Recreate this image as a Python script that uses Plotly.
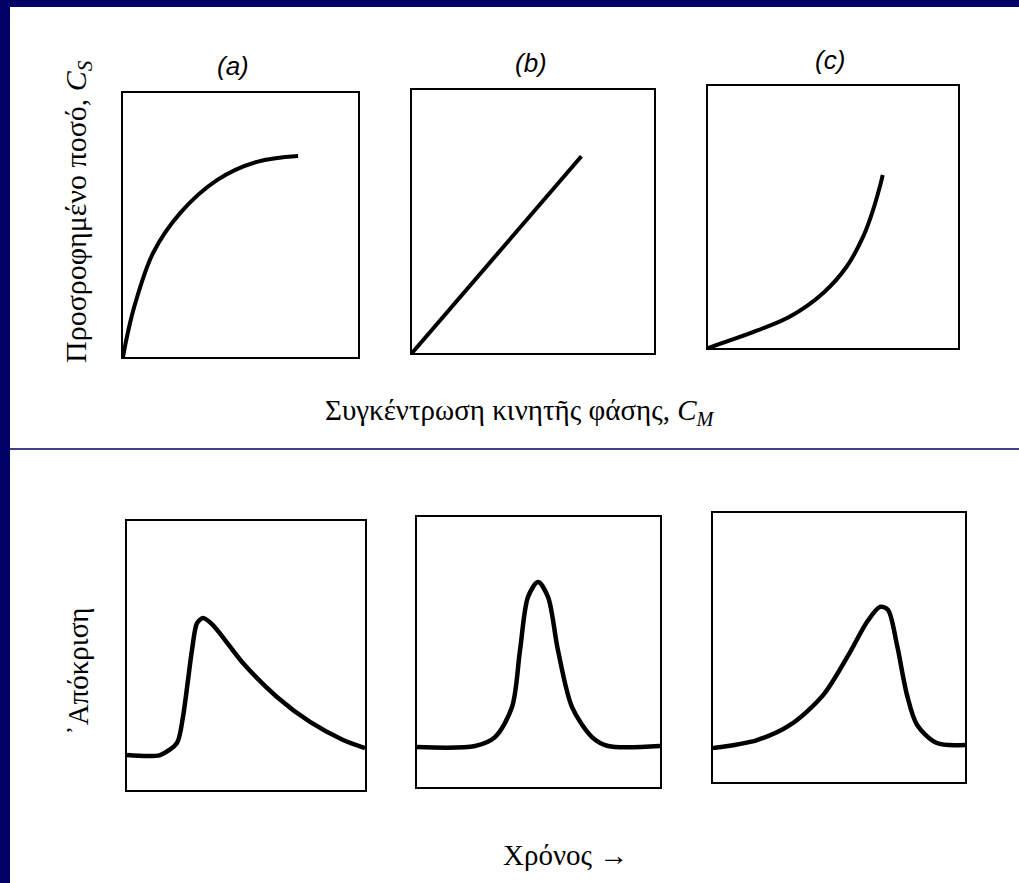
import plotly.graph_objects as go

# Panel labels
panel_labels = ["(a)", "(b)", "(c)"]

# Isotherms: stationary-phase amount vs mobile-phase concentration
iso_a_x = [0.0, 0.02, 0.051, 0.128, 0.243, 0.40, 0.57, 0.745]
iso_a_y = [0.0, 0.09, 0.20, 0.394, 0.545, 0.67, 0.739, 0.761]
iso_b_x = [0.0, 0.70]
iso_b_y = [0.0, 0.748]
iso_c_x = [0.0, 0.195, 0.328, 0.461, 0.555, 0.621, 0.661, 0.688, 0.699]
iso_c_y = [0.0, 0.066, 0.12, 0.21, 0.311, 0.426, 0.529, 0.618, 0.66]

# Resulting peak shapes: detector response vs time
peak_a_x = [0.0, 0.139, 0.21, 0.235, 0.273, 0.294, 0.319, 0.361, 0.487, 0.63, 0.769, 0.908, 1.0]
peak_a_y = [0.13, 0.13, 0.175, 0.271, 0.52, 0.62, 0.639, 0.613, 0.472, 0.346, 0.253, 0.186, 0.156]
peak_b_x = [0.0, 0.239, 0.321, 0.391, 0.424, 0.457, 0.498, 0.539, 0.58, 0.638, 0.72, 0.786, 1.0]
peak_b_y = [0.148, 0.152, 0.185, 0.296, 0.507, 0.704, 0.759, 0.704, 0.507, 0.296, 0.185, 0.152, 0.152]
peak_c_x = [0.0, 0.175, 0.306, 0.437, 0.544, 0.611, 0.663, 0.694, 0.73, 0.77, 0.81, 0.888, 1.0]
peak_c_y = [0.126, 0.156, 0.212, 0.323, 0.483, 0.595, 0.651, 0.640, 0.51, 0.323, 0.212, 0.145, 0.138]

# Axis titles
top_ytitle = "Προσροφημένο ποσό, <i>C</i><sub><i>S</i></sub>"
top_xtitle = "Συγκέντρωση κινητῆς φάσης, <i>C</i><sub><i>M</i></sub>"
bot_ytitle = "᾿Απόκριση"
bot_xtitle = "Χρόνος →"

W, H = 1019, 883
NAVY = "#000066"

# Pixel frames of the six boxes: (left, right, top, bottom)
frames = [
    (123, 358, 93, 357), (412, 654, 90, 353), (708, 958, 86, 348),
    (127, 365, 521, 790), (417, 660, 517, 787), (713, 965, 513, 782),
]
series = [
    (iso_a_x, iso_a_y, "spline", 1.0), (iso_b_x, iso_b_y, "linear", None),
    (iso_c_x, iso_c_y, "spline", 1.0),
    (peak_a_x, peak_a_y, "spline", 0.75), (peak_b_x, peak_b_y, "spline", 0.85),
    (peak_c_x, peak_c_y, "spline", 0.85),
]

fig = go.Figure()
layout = dict(
    width=W, height=H, margin=dict(l=0, r=0, t=0, b=0),
    paper_bgcolor="white", plot_bgcolor="white", showlegend=False,
)

for i, ((l, r, t, b), (xs, ys, shape, smooth)) in enumerate(zip(frames, series), start=1):
    xa = "xaxis" if i == 1 else f"xaxis{i}"
    ya = "yaxis" if i == 1 else f"yaxis{i}"
    xref = "x" if i == 1 else f"x{i}"
    yref = "y" if i == 1 else f"y{i}"
    axis_common = dict(showgrid=False, zeroline=False, showticklabels=False, ticks="",
                       showline=True, linecolor="black", linewidth=2, mirror=True,
                       range=[0, 1], fixedrange=True)
    layout[xa] = dict(axis_common, domain=[l / W, r / W], anchor=yref)
    layout[ya] = dict(axis_common, domain=[1 - b / H, 1 - t / H], anchor=xref)
    line = dict(color="black", width=4 if i <= 3 else 4.5, shape=shape)
    if smooth is not None:
        line["smoothing"] = smooth
    fig.add_trace(go.Scatter(x=xs, y=ys, mode="lines", line=line,
                             xaxis=xref, yaxis=yref, hoverinfo="skip",
                             cliponaxis=False))

fig.update_layout(**layout)

serif = "Liberation Serif, Times New Roman, serif"
annotations = []
for lab, cx, cy in zip(panel_labels, [233, 531, 830], [66, 63, 60]):
    annotations.append(dict(text=f"<i>{lab}</i>", x=cx / W, y=1 - cy / H,
                            font=dict(family="Liberation Sans, Arial, sans-serif", size=26, color="black")))
annotations += [
    dict(text=top_ytitle, x=78 / W, y=1 - 212 / H, textangle=-90, font=dict(family=serif, size=30, color="black")),
    dict(text=top_xtitle, x=520 / W, y=1 - 412 / H, font=dict(family=serif, size=29, color="black")),
    dict(text=bot_ytitle, x=78 / W, y=1 - 672 / H, textangle=-90, font=dict(family=serif, size=29, color="black")),
    dict(text=bot_xtitle, x=565 / W, y=1 - 855 / H, font=dict(family=serif, size=29, color="black")),
]
for a in annotations:
    a.update(xref="paper", yref="paper", showarrow=False, xanchor="center", yanchor="middle")
fig.update_layout(annotations=annotations)

# Navy frame along the top and left edges, and the divider between the two rows
fig.update_layout(shapes=[
    dict(type="rect", xref="paper", yref="paper", x0=0, x1=1, y0=1 - 7 / H, y1=1,
         fillcolor=NAVY, line=dict(width=0), layer="below"),
    dict(type="rect", xref="paper", yref="paper", x0=0, x1=10 / W, y0=0, y1=1,
         fillcolor=NAVY, line=dict(width=0), layer="below"),
    dict(type="line", xref="paper", yref="paper", x0=10 / W, x1=1, y0=1 - 449 / H, y1=1 - 449 / H,
         line=dict(color=NAVY, width=1.5)),
])

fig.write_html("out.html")
